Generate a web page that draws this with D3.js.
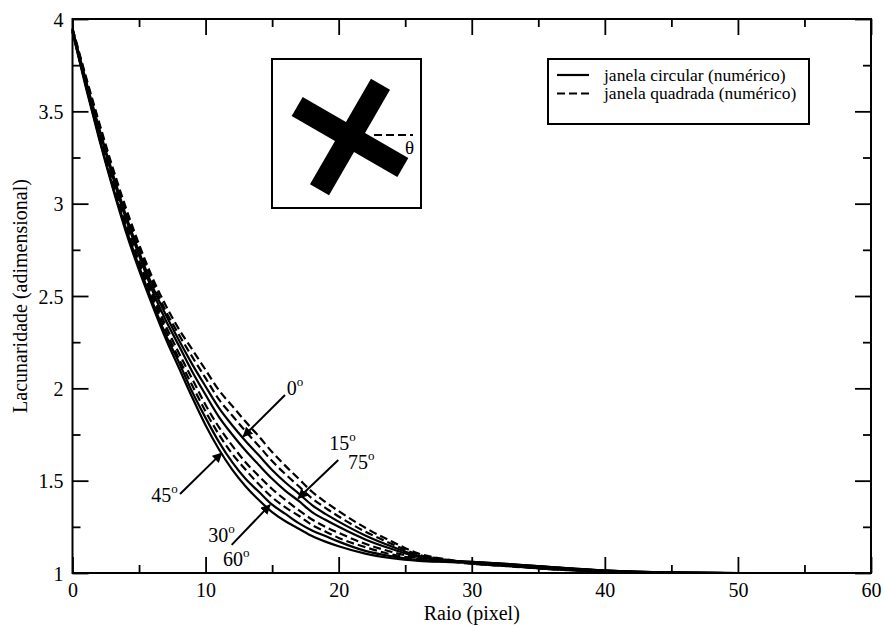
<html>
<head>
  <script src="https://unpkg.com/d3@7/dist/d3.min.js"></script>
  <style>
    body { margin: 0; background: #fff; }
    text { font-family: 'Liberation Serif', 'Times New Roman', serif; fill: #000; }
  </style>
</head>
<body>
<svg id="container" width="884" height="626"></svg>
<script>
// radius (pixel) sample points
const radius = [0,1,2,3,4,5,6,7,8,9,10,11,12,13,14,15,16,17,18,19,20,22,24,26,28,30,33,36,40,45,50,55,60];

// janela circular (solid)
const circ45   = [3.93,3.63,3.35,3.09,2.85,2.64,2.45,2.27,2.11,1.95,1.80,1.67,1.56,1.47,1.395,1.33,1.28,1.24,1.20,1.17,1.145,1.105,1.08,1.066,1.06,1.056,1.044,1.03,1.012,1.002,1.0,1.0,1.0];
const circ3060 = [3.93,3.64,3.36,3.10,2.87,2.66,2.47,2.29,2.14,1.98,1.84,1.71,1.60,1.51,1.44,1.37,1.32,1.27,1.23,1.20,1.17,1.12,1.09,1.07,1.062,1.058,1.046,1.031,1.013,1.002,1.0,1.0,1.0];
const circ1575 = [3.94,3.66,3.40,3.15,2.92,2.72,2.53,2.37,2.23,2.09,1.965,1.846,1.75,1.663,1.585,1.51,1.445,1.39,1.33,1.288,1.25,1.182,1.13,1.087,1.068,1.06,1.047,1.032,1.013,1.003,1.0,1.0,1.0];
const circ0    = [3.944,3.67,3.41,3.17,2.94,2.74,2.555,2.40,2.26,2.13,2.01,1.894,1.80,1.715,1.637,1.558,1.49,1.43,1.368,1.32,1.278,1.203,1.143,1.093,1.07,1.06,1.047,1.032,1.014,1.003,1.0,1.0,1.0];

// janela quadrada (dashed)
const quad45   = [3.935,3.645,3.37,3.12,2.88,2.675,2.49,2.315,2.16,2.015,1.875,1.75,1.645,1.56,1.48,1.41,1.355,1.31,1.26,1.225,1.19,1.14,1.10,1.076,1.064,1.05,1.035,1.02,1.007,1.0,1.0,1.0,1.0];
const quad3060 = [3.94,3.65,3.38,3.13,2.90,2.69,2.51,2.34,2.19,2.05,1.91,1.79,1.69,1.60,1.525,1.455,1.395,1.34,1.29,1.25,1.217,1.158,1.114,1.081,1.066,1.051,1.036,1.021,1.007,1.0,1.0,1.0,1.0];
const quad1575 = [3.947,3.68,3.43,3.18,2.96,2.76,2.58,2.42,2.29,2.17,2.055,1.94,1.853,1.768,1.688,1.606,1.535,1.47,1.404,1.353,1.306,1.224,1.157,1.099,1.073,1.053,1.037,1.022,1.008,1.0,1.0,1.0,1.0];
const quad0    = [3.95,3.69,3.44,3.20,2.98,2.78,2.60,2.45,2.32,2.21,2.10,1.99,1.905,1.82,1.74,1.655,1.58,1.51,1.44,1.385,1.335,1.245,1.17,1.105,1.075,1.055,1.038,1.022,1.008,1.0,1.0,1.0,1.0];

const xTicks = [0,10,20,30,40,50,60];
const yTicks = [1,1.5,2,2.5,3,3.5,4];
const legendLabels = ['janela circular (numérico)', 'janela quadrada (numérico)'];

const svg = d3.select('#container');
svg.append('rect').attr('width', 884).attr('height', 626).attr('fill', '#fff');

const mLeft = 72.5, mRight = 871, mTop = 19, mBottom = 573;
const x = d3.scaleLinear().domain([0, 60]).range([mLeft, mRight]);
const y = d3.scaleLinear().domain([1, 4]).range([mBottom, mTop]);

// curves
const line = d3.line()
  .x((d, i) => x(radius[i]))
  .y(d => y(d))
  .curve(d3.curveMonotoneX);

const solids = [circ45, circ3060, circ1575, circ0];
const dashes = [quad45, quad3060, quad1575, quad0];

svg.append('g').selectAll('path')
  .data(dashes).enter().append('path')
  .attr('d', line)
  .attr('fill', 'none').attr('stroke', '#000')
  .attr('stroke-width', 2.2).attr('stroke-dasharray', '8,4');

svg.append('g').selectAll('path')
  .data(solids).enter().append('path')
  .attr('d', line)
  .attr('fill', 'none').attr('stroke', '#000')
  .attr('stroke-width', 2.2);

// axes, ticks pointing inward
const minorX = d3.range(5, 60, 10);
const minorY = [1.25, 1.75, 2.25, 2.75, 3.25, 3.75];

function styleAxis(g) {
  g.select('.domain').remove();
  g.selectAll('line').attr('stroke', '#000').attr('stroke-width', 1.8);
}

svg.append('g').attr('transform', `translate(0,${mBottom})`)
  .call(d3.axisBottom(x).tickValues(xTicks).tickSize(-16).tickPadding(10).tickFormat(d3.format('d')))
  .call(styleAxis)
  .call(g => g.selectAll('text').attr('font-size', 20).attr('font-family', 'Liberation Serif').attr('dy', '0.72em').attr('fill', '#000'));
svg.append('g').attr('transform', `translate(0,${mBottom})`)
  .call(d3.axisBottom(x).tickValues(minorX).tickSize(-8).tickFormat(''))
  .call(styleAxis);
svg.append('g').attr('transform', `translate(0,${mTop})`)
  .call(d3.axisTop(x).tickValues(xTicks).tickSize(-16).tickFormat(''))
  .call(styleAxis);
svg.append('g').attr('transform', `translate(0,${mTop})`)
  .call(d3.axisTop(x).tickValues(minorX).tickSize(-8).tickFormat(''))
  .call(styleAxis);

svg.append('g').attr('transform', `translate(${mLeft},0)`)
  .call(d3.axisLeft(y).tickValues(yTicks).tickSize(-16).tickPadding(9).tickFormat(d => d))
  .call(styleAxis)
  .call(g => g.selectAll('text').attr('font-size', 20).attr('font-family', 'Liberation Serif').attr('dy', '0.36em').attr('fill', '#000'));
svg.append('g').attr('transform', `translate(${mLeft},0)`)
  .call(d3.axisLeft(y).tickValues(minorY).tickSize(-8).tickFormat(''))
  .call(styleAxis);
svg.append('g').attr('transform', `translate(${mRight},0)`)
  .call(d3.axisRight(y).tickValues(yTicks).tickSize(-16).tickFormat(''))
  .call(styleAxis);
svg.append('g').attr('transform', `translate(${mRight},0)`)
  .call(d3.axisRight(y).tickValues(minorY).tickSize(-8).tickFormat(''))
  .call(styleAxis);

// frame
svg.append('rect')
  .attr('x', mLeft).attr('y', mTop)
  .attr('width', mRight - mLeft).attr('height', mBottom - mTop)
  .attr('fill', 'none').attr('stroke', '#000').attr('stroke-width', 2);

// axis titles
svg.append('text')
  .attr('x', (mLeft + mRight) / 2).attr('y', 620)
  .attr('text-anchor', 'middle').attr('font-size', 20)
  .text('Raio (pixel)');
svg.append('text')
  .attr('transform', `translate(27,${(mTop + mBottom) / 2}) rotate(-90)`)
  .attr('text-anchor', 'middle').attr('font-size', 20)
  .text('Lacunaridade (adimensional)');

// legend
const legend = svg.append('g');
legend.append('rect')
  .attr('x', 548).attr('y', 59).attr('width', 261).attr('height', 65)
  .attr('fill', '#fff').attr('stroke', '#000').attr('stroke-width', 2);
legendLabels.forEach((lab, i) => {
  const ly = 75 + i * 18.5;
  legend.append('line')
    .attr('x1', 557).attr('x2', 589).attr('y1', ly).attr('y2', ly)
    .attr('stroke', '#000').attr('stroke-width', 2.2)
    .attr('stroke-dasharray', i ? '8,4' : null);
  legend.append('text')
    .attr('x', 604).attr('y', ly + 5.5)
    .attr('font-size', 17.5)
    .text(lab);
});

// inset with rotated cross
const inset = svg.append('g');
inset.append('rect')
  .attr('x', 272).attr('y', 59).attr('width', 149).attr('height', 149)
  .attr('fill', '#fff').attr('stroke', '#000').attr('stroke-width', 2);
const cross = inset.append('g').attr('transform', 'translate(350,137) rotate(30)');
cross.append('rect').attr('x', -61).attr('y', -11).attr('width', 122).attr('height', 22).attr('fill', '#000');
cross.append('rect').attr('x', -11).attr('y', -61).attr('width', 22).attr('height', 122).attr('fill', '#000');
inset.append('line')
  .attr('x1', 374).attr('x2', 413).attr('y1', 135).attr('y2', 135)
  .attr('stroke', '#000').attr('stroke-width', 2).attr('stroke-dasharray', '8,4');
inset.append('text')
  .attr('x', 405).attr('y', 154).attr('font-size', 19)
  .text('θ');

// arrow annotations (data coordinates)
svg.append('defs').append('marker')
  .attr('id', 'head').attr('viewBox', '0 0 10 10')
  .attr('refX', 9).attr('refY', 5)
  .attr('markerWidth', 5).attr('markerHeight', 5)
  .attr('markerUnits', 'strokeWidth')
  .attr('orient', 'auto')
  .append('path').attr('d', 'M0,0L10,5L0,10z').attr('fill', '#000');

const arrows = [
  {from: [15.97, 1.964], to: [12.83, 1.739]},
  {from: [8.08, 1.428], to: [11.21, 1.649]},
  {from: [19.97, 1.612], to: [16.96, 1.405]},
  {from: [11.96, 1.152], to: [14.84, 1.369]}
];
svg.append('g').selectAll('line')
  .data(arrows).enter().append('line')
  .attr('x1', d => x(d.from[0])).attr('y1', d => y(d.from[1]))
  .attr('x2', d => x(d.to[0])).attr('y2', d => y(d.to[1]))
  .attr('stroke', '#000').attr('stroke-width', 2)
  .attr('marker-end', 'url(#head)');

const angleLabels = [
  {t: '0', at: [16.1, 1.964], anchor: 'start'},
  {t: '45', at: [7.9, 1.385], anchor: 'end'},
  {t: '15', at: [19.3, 1.665], anchor: 'start'},
  {t: '75', at: [20.7, 1.565], anchor: 'start'},
  {t: '30', at: [10.2, 1.168], anchor: 'start'},
  {t: '60', at: [11.3, 1.038], anchor: 'start'}
];
angleLabels.forEach(a => {
  const tx = svg.append('text')
    .attr('x', x(a.at[0])).attr('y', y(a.at[1]))
    .attr('text-anchor', a.anchor).attr('font-size', 20);
  tx.append('tspan').text(a.t);
  tx.append('tspan').attr('font-size', 13).attr('dy', -9).text('o');
});
</script>
</body>
</html>
